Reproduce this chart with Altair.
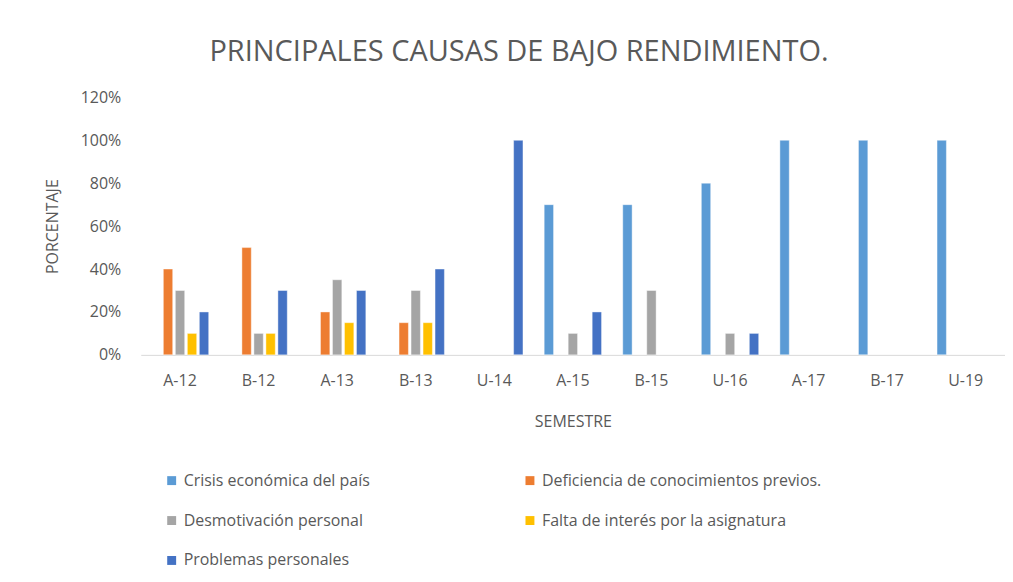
import altair as alt
import pandas as pd

semestres = ["A-12", "B-12", "A-13", "B-13", "U-14", "A-15", "B-15", "U-16", "A-17", "B-17", "U-19"]
series = ["Crisis económica del país", "Deficiencia de conocimientos previos.",
          "Desmotivación personal", "Falta de interés por la asignatura", "Problemas personales"]
crisis = [0, 0, 0, 0, 0, 0.70, 0.70, 0.80, 1.00, 1.00, 1.00]
deficiencia = [0.40, 0.50, 0.20, 0.15, 0, 0, 0, 0, 0, 0, 0]
desmotivacion = [0.30, 0.10, 0.35, 0.30, 0, 0.10, 0.30, 0.10, 0, 0, 0]
falta = [0.10, 0.10, 0.15, 0.15, 0, 0, 0, 0, 0, 0, 0]
problemas = [0.20, 0.30, 0.30, 0.40, 1.00, 0.20, 0, 0.10, 0, 0, 0]
colors = ["#5B9BD5", "#ED7D31", "#A5A5A5", "#FFC000", "#4472C4"]

rows = []
for name, vals in zip(series, [crisis, deficiencia, desmotivacion, falta, problemas]):
    for s, v in zip(semestres, vals):
        rows.append({"semestre": s, "causa": name, "valor": v})
df = pd.DataFrame(rows)

FONT = "Open Sans, sans-serif"
GRAY = "#595959"

chart = alt.Chart(df).transform_filter("datum.valor > 0").mark_bar(
    stroke="#ffffff", strokeWidth=0.6, strokeOpacity=0.7
).encode(
    x=alt.X("semestre:N", sort=semestres,
            scale=alt.Scale(paddingInner=0.27, paddingOuter=0.135),
            axis=alt.Axis(title="SEMESTRE", labelAngle=0, ticks=False,
                          domainColor="#d9d9d9", labelPadding=18, titlePadding=25)),
    xOffset=alt.XOffset("causa:N", sort=series, scale=alt.Scale(domain=series, paddingInner=0.22)),
    y=alt.Y("valor:Q", scale=alt.Scale(domain=[0, 1.2]),
            axis=alt.Axis(title="PORCENTAJE", format=".0%", values=[0, 0.2, 0.4, 0.6, 0.8, 1.0, 1.2],
                          grid=False, domain=False, ticks=False, labelPadding=20, titlePadding=20)),
    color=alt.Color("causa:N", sort=series,
                    scale=alt.Scale(domain=series, range=colors),
                    legend=alt.Legend(title=None, orient="none", legendX=23, legendY=376,
                                      direction="horizontal",
                                      columns=2, columnPadding=152, rowPadding=24,
                                      symbolType="square", symbolSize=80, symbolStrokeWidth=0,
                                      labelFontSize=16, labelColor=GRAY, labelFont=FONT,
                                      labelLimit=400)),
).properties(
    width=866, height=258,
    title=alt.Title("PRINCIPALES CAUSAS DE BAJO RENDIMIENTO.", fontSize=29, font=FONT,
                    fontWeight="normal", color=GRAY, dx=-54, offset=22),
    autosize=alt.AutoSizeParams(type="none"),
    padding={"left": 133, "top": 89, "right": 0, "bottom": 219},
    background="white",
).configure_view(stroke=None).configure_axis(
    labelFont=FONT, titleFont=FONT, labelColor=GRAY, titleColor=GRAY,
    labelFontSize=16, titleFontSize=16, titleFontWeight="normal"
)

chart.save("out.html", embed_options={"renderer": "svg", "actions": False})
